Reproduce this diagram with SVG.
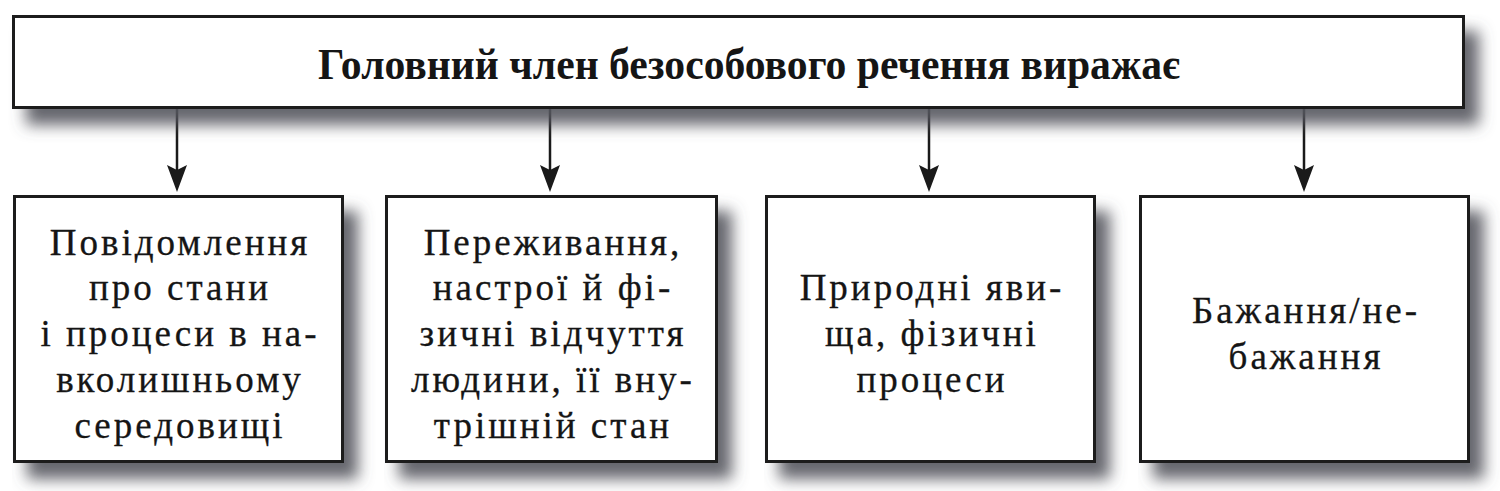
<svg xmlns="http://www.w3.org/2000/svg" width="1500" height="491" viewBox="0 0 1500 491">
  <defs>
    <filter id="shadow" x="-5%" y="-20%" width="120%" height="170%">
      <feGaussianBlur in="SourceAlpha" stdDeviation="7.5" result="b"/>
      <feOffset in="b" dx="14" dy="16" result="o"/>
      <feFlood flood-color="#55565e" flood-opacity="0.9"/>
      <feComposite in2="o" operator="in" result="s"/>
      <feMerge>
        <feMergeNode in="s"/>
        <feMergeNode in="SourceGraphic"/>
      </feMerge>
    </filter>
  </defs>
  <style>
    .box { fill: #ffffff; stroke: #1a1a1a; stroke-width: 3; filter: url(#shadow); }
    .title { font-family: "Liberation Serif", "DejaVu Serif", serif; font-weight: bold; font-size: 44px; fill: #151515; }
    .lbl { font-family: "Liberation Serif", "DejaVu Serif", serif; font-weight: 400; font-size: 37px; letter-spacing: 3px; fill: #151515; stroke: #151515; stroke-width: 0.3; text-anchor: middle; }
    .conn { stroke: #1a1a1a; stroke-width: 2.5; fill: none; }
    .head { fill: #1a1a1a; }
  </style>
  <rect width="1500" height="491" fill="#ffffff"/>

  <g id="connectors">
    <line class="conn" x1="177" y1="109" x2="177" y2="172"/>
    <path class="head" d="M167,165 L177,170 L187,165 L177,192 Z"/>
    <line class="conn" x1="550" y1="109" x2="550" y2="172"/>
    <path class="head" d="M540,165 L550,170 L560,165 L550,192 Z"/>
    <line class="conn" x1="929" y1="109" x2="929" y2="172"/>
    <path class="head" d="M919,165 L929,170 L939,165 L929,192 Z"/>
    <line class="conn" x1="1304" y1="109" x2="1304" y2="172"/>
    <path class="head" d="M1294,165 L1304,170 L1314,165 L1304,192 Z"/>
  </g>

  <g id="node-top">
    <rect class="box" x="13.5" y="16.5" width="1450" height="91"/>
    <text class="title" x="318" y="79" textLength="862" lengthAdjust="spacingAndGlyphs">Головний член безособового речення виражає</text>
  </g>

  <g id="node-1">
    <rect class="box" x="14.5" y="196.5" width="328" height="265"/>
    <text class="lbl" x="180" y="255">Повідомлення</text>
    <text class="lbl" x="180" y="300">про стани</text>
    <text class="lbl" x="180" y="346">і процеси в на-</text>
    <text class="lbl" x="180" y="392">вколишньому</text>
    <text class="lbl" x="180" y="438">середовищі</text>
  </g>

  <g id="node-2">
    <rect class="box" x="386.5" y="196.5" width="330" height="265"/>
    <text class="lbl" x="553" y="255">Переживання,</text>
    <text class="lbl" x="553" y="300">настрої й фі-</text>
    <text class="lbl" x="553" y="346">зичні відчуття</text>
    <text class="lbl" x="553" y="392">людини, її вну-</text>
    <text class="lbl" x="553" y="438">трішній стан</text>
  </g>

  <g id="node-3">
    <rect class="box" x="766.5" y="196.5" width="328" height="265"/>
    <text class="lbl" x="932" y="300">Природні яви-</text>
    <text class="lbl" x="932" y="346">ща, фізичні</text>
    <text class="lbl" x="932" y="392">процеси</text>
  </g>

  <g id="node-4">
    <rect class="box" x="1140.5" y="196.5" width="328" height="265"/>
    <text class="lbl" x="1306" y="323">Бажання/не-</text>
    <text class="lbl" x="1306" y="369">бажання</text>
  </g>
</svg>
